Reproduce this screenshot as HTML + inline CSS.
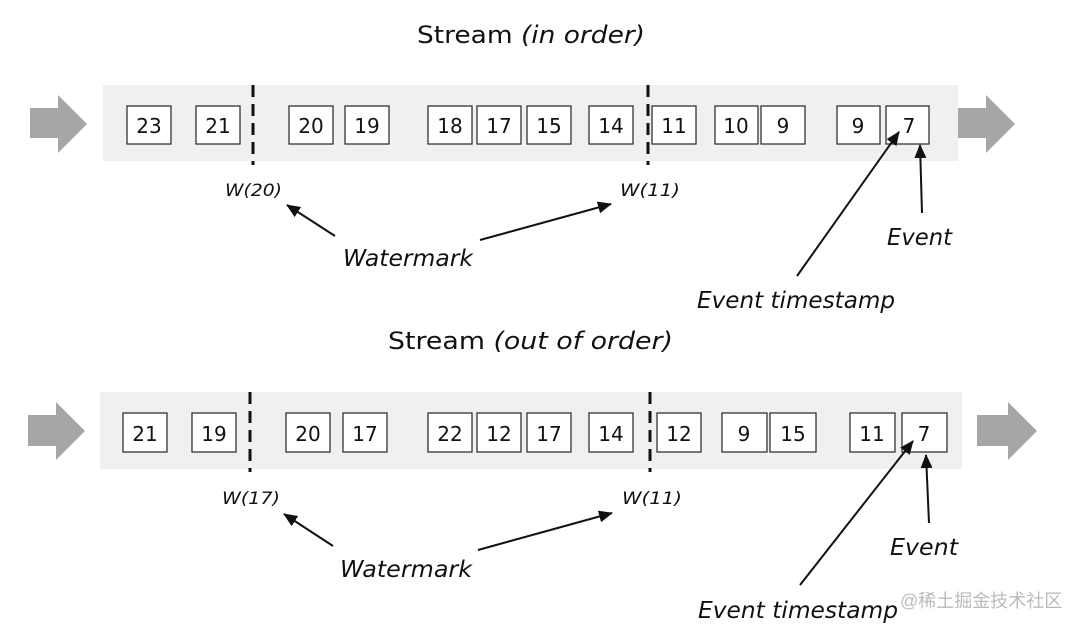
<!DOCTYPE html>
<html><head><meta charset="utf-8"><style>
html,body{margin:0;padding:0;background:#fff;}
svg{display:block;}
text{font-family:"DejaVu Sans","Liberation Sans",sans-serif;fill:#111;}
.n{font-size:20px;text-anchor:middle;}
.i{font-style:italic;}
</style></head><body>
<svg width="1080" height="629" viewBox="0 0 1080 629" xmlns="http://www.w3.org/2000/svg">
<defs>
<marker id="ah" markerWidth="14" markerHeight="12" refX="13" refY="6" orient="auto" markerUnits="userSpaceOnUse">
<path d="M0,0 L14,6 L0,12 z" fill="#111"/>
</marker>
</defs>

<!-- TOP -->
<text x="417" y="43" font-size="24" textLength="228" lengthAdjust="spacingAndGlyphs">Stream <tspan class="i">(in order)</tspan></text>
<rect x="103" y="85" width="855" height="76" fill="#f0f0f0"/>
<path d="M30,108 H58 V95 L87,124 L58,153 V138 H30 Z" fill="#a6a6a6"/>
<path d="M958,108 H986 V95 L1015,124 L986,153 V138 H958 Z" fill="#a6a6a6"/>
<g fill="#fff" stroke="#333" stroke-width="1.3">
<rect x="127" y="106" width="44" height="38"/><rect x="196" y="106" width="44" height="38"/>
<rect x="289" y="106" width="44" height="38"/><rect x="345" y="106" width="44" height="38"/>
<rect x="428" y="106" width="44" height="38"/><rect x="477" y="106" width="44" height="38"/>
<rect x="527" y="106" width="44" height="38"/><rect x="589" y="106" width="44" height="38"/>
<rect x="652" y="106" width="44" height="38"/><rect x="715" y="106" width="43" height="38"/>
<rect x="761" y="106" width="44" height="38"/><rect x="837" y="106" width="43" height="38"/>
<rect x="886" y="106" width="43" height="38"/>
</g>
<text class="n" x="149" y="133">23</text><text class="n" x="218" y="133">21</text>
<text class="n" x="311" y="133">20</text><text class="n" x="367" y="133">19</text>
<text class="n" x="450" y="133">18</text><text class="n" x="499" y="133">17</text>
<text class="n" x="549" y="133">15</text><text class="n" x="611" y="133">14</text>
<text class="n" x="674" y="133">11</text><text class="n" x="736" y="133">10</text>
<text class="n" x="783" y="133">9</text><text class="n" x="858" y="133">9</text>
<text class="n" x="909" y="133">7</text>
<line x1="253" y1="85" x2="253" y2="165" stroke="#111" stroke-width="3" stroke-dasharray="12,7"/>
<line x1="648" y1="85" x2="648" y2="165" stroke="#111" stroke-width="3" stroke-dasharray="12,7"/>
<text x="225" y="196" font-size="17" class="i" textLength="57" lengthAdjust="spacingAndGlyphs">W(20)</text>
<text x="620" y="196" font-size="17" class="i" textLength="60" lengthAdjust="spacingAndGlyphs">W(11)</text>
<text x="343" y="266" font-size="23" class="i" textLength="130" lengthAdjust="spacingAndGlyphs">Watermark</text>
<line x1="335" y1="236" x2="287" y2="205" stroke="#111" stroke-width="2" marker-end="url(#ah)"/>
<line x1="480" y1="240" x2="611" y2="204" stroke="#111" stroke-width="2" marker-end="url(#ah)"/>
<text x="887" y="245" font-size="23" class="i" textLength="65" lengthAdjust="spacingAndGlyphs">Event</text>
<line x1="922" y1="213" x2="920" y2="145" stroke="#111" stroke-width="2" marker-end="url(#ah)"/>
<text x="697" y="308" font-size="23" class="i" textLength="198" lengthAdjust="spacingAndGlyphs">Event timestamp</text>
<line x1="797" y1="276" x2="899" y2="132" stroke="#111" stroke-width="2" marker-end="url(#ah)"/>

<!-- BOTTOM -->
<text x="388" y="349" font-size="24" textLength="285" lengthAdjust="spacingAndGlyphs">Stream <tspan class="i">(out of order)</tspan></text>
<rect x="100" y="392" width="862" height="77" fill="#f0f0f0"/>
<path d="M28,415 H56 V402 L85,431 L56,460 V446 H28 Z" fill="#a6a6a6"/>
<path d="M977,415 H1008 V402 L1037,431 L1008,460 V446 H977 Z" fill="#a6a6a6"/>
<g fill="#fff" stroke="#333" stroke-width="1.3">
<rect x="123" y="413" width="44" height="39"/><rect x="192" y="413" width="44" height="39"/>
<rect x="286" y="413" width="44" height="39"/><rect x="343" y="413" width="44" height="39"/>
<rect x="428" y="413" width="44" height="39"/><rect x="477" y="413" width="44" height="39"/>
<rect x="527" y="413" width="44" height="39"/><rect x="589" y="413" width="44" height="39"/>
<rect x="657" y="413" width="44" height="39"/><rect x="722" y="413" width="45" height="39"/>
<rect x="770" y="413" width="46" height="39"/><rect x="850" y="413" width="45" height="39"/>
<rect x="902" y="413" width="45" height="39"/>
</g>
<text class="n" x="145" y="441">21</text><text class="n" x="214" y="441">19</text>
<text class="n" x="308" y="441">20</text><text class="n" x="365" y="441">17</text>
<text class="n" x="450" y="441">22</text><text class="n" x="499" y="441">12</text>
<text class="n" x="549" y="441">17</text><text class="n" x="611" y="441">14</text>
<text class="n" x="679" y="441">12</text><text class="n" x="744" y="441">9</text>
<text class="n" x="793" y="441">15</text><text class="n" x="872" y="441">11</text>
<text class="n" x="924" y="441">7</text>
<line x1="250" y1="392" x2="250" y2="472" stroke="#111" stroke-width="3" stroke-dasharray="12,7"/>
<line x1="650" y1="392" x2="650" y2="472" stroke="#111" stroke-width="3" stroke-dasharray="12,7"/>
<text x="222" y="504" font-size="17" class="i" textLength="58" lengthAdjust="spacingAndGlyphs">W(17)</text>
<text x="622" y="504" font-size="17" class="i" textLength="60" lengthAdjust="spacingAndGlyphs">W(11)</text>
<text x="340" y="577" font-size="23" class="i" textLength="132" lengthAdjust="spacingAndGlyphs">Watermark</text>
<line x1="333" y1="546" x2="284" y2="514" stroke="#111" stroke-width="2" marker-end="url(#ah)"/>
<line x1="478" y1="550" x2="612" y2="513" stroke="#111" stroke-width="2" marker-end="url(#ah)"/>
<text x="890" y="555" font-size="23" class="i" textLength="68" lengthAdjust="spacingAndGlyphs">Event</text>
<line x1="929" y1="523" x2="926" y2="455" stroke="#111" stroke-width="2" marker-end="url(#ah)"/>
<text x="698" y="618" font-size="23" class="i" textLength="200" lengthAdjust="spacingAndGlyphs">Event timestamp</text>
<line x1="800" y1="585" x2="913" y2="441" stroke="#111" stroke-width="2" marker-end="url(#ah)"/>
<text x="900" y="607" font-size="18" style="fill:#bbb;font-family:'Liberation Sans','Noto Sans CJK SC',sans-serif;">@稀土掘金技术社区</text>
</svg>
</body></html>
